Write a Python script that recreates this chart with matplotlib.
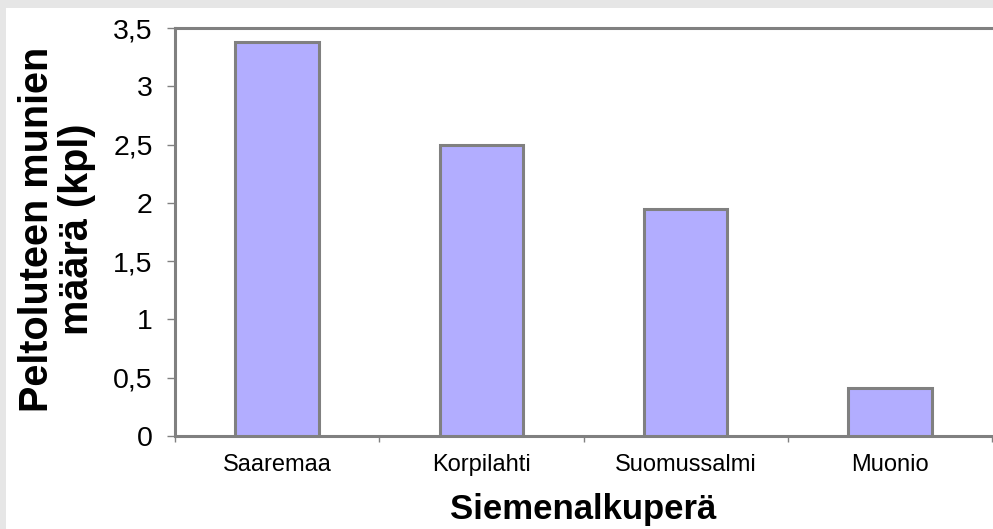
import matplotlib.pyplot as plt
from matplotlib.patches import Rectangle
from matplotlib.ticker import FuncFormatter, FixedLocator

# Tiedot kuvasta
paikat = ['Saaremaa', 'Korpilahti', 'Suomussalmi', 'Muonio']
munat = [3.38, 2.50, 1.95, 0.41]
y_ticks = [0, 0.5, 1, 1.5, 2, 2.5, 3, 3.5]

plt.rcParams['font.family'] = ['Liberation Sans', 'DejaVu Sans']

W, H = 993, 529
fig = plt.figure(figsize=(W / 100, H / 100), dpi=100)
fig.patch.set_facecolor('#e6e6e6')
# valkoinen kaavioalue, harmaa reunus vain ylhäällä ja vasemmalla
fig.patches.append(Rectangle((6 / W, 0), 1, (H - 8) / H, transform=fig.transFigure,
                             facecolor='white', edgecolor='none', zorder=-5))

ax = fig.add_axes([175 / W, (H - 436) / H, 817 / W, 408 / H])
ax.set_facecolor('white')

x = range(len(paikat))
ax.bar(x, munat, width=0.41, color='#b2adff', edgecolor='#808080', linewidth=2.2, zorder=3)

ax.set_xlim(-0.5, len(paikat) - 0.5)
ax.set_ylim(0, 3.5)

for side in ['left', 'top', 'bottom']:
    ax.spines[side].set_color('#808080')
    ax.spines[side].set_linewidth(2.2)
ax.spines['right'].set_visible(False)

ax.set_yticks(y_ticks)
ax.yaxis.set_major_formatter(FuncFormatter(lambda v, p: f'{v:g}'.replace('.', ',')))
ax.tick_params(axis='y', length=6, width=1, color='#808080', labelsize=20.5, pad=10)

ax.set_xticks(list(x))
ax.set_xticklabels(paikat)
ax.tick_params(axis='x', which='major', length=0, labelsize=17, pad=13)
ax.xaxis.set_minor_locator(FixedLocator([i - 0.5 for i in range(len(paikat) + 1)]))
ax.tick_params(axis='x', which='minor', length=4, width=1, color='#808080')

fig.text(583 / W, 1 - 509 / H, 'Siemenalkuperä', fontsize=25, fontweight='bold',
         ha='center', va='center')
fig.text(57 / W, 1 - 229 / H, 'Peltoluteen munien\nmäärä (kpl)', fontsize=28.5,
         fontweight='bold', rotation=90, ha='center', va='center',
         multialignment='center', linespacing=1.05)

fig.savefig('out.png', dpi=100)
